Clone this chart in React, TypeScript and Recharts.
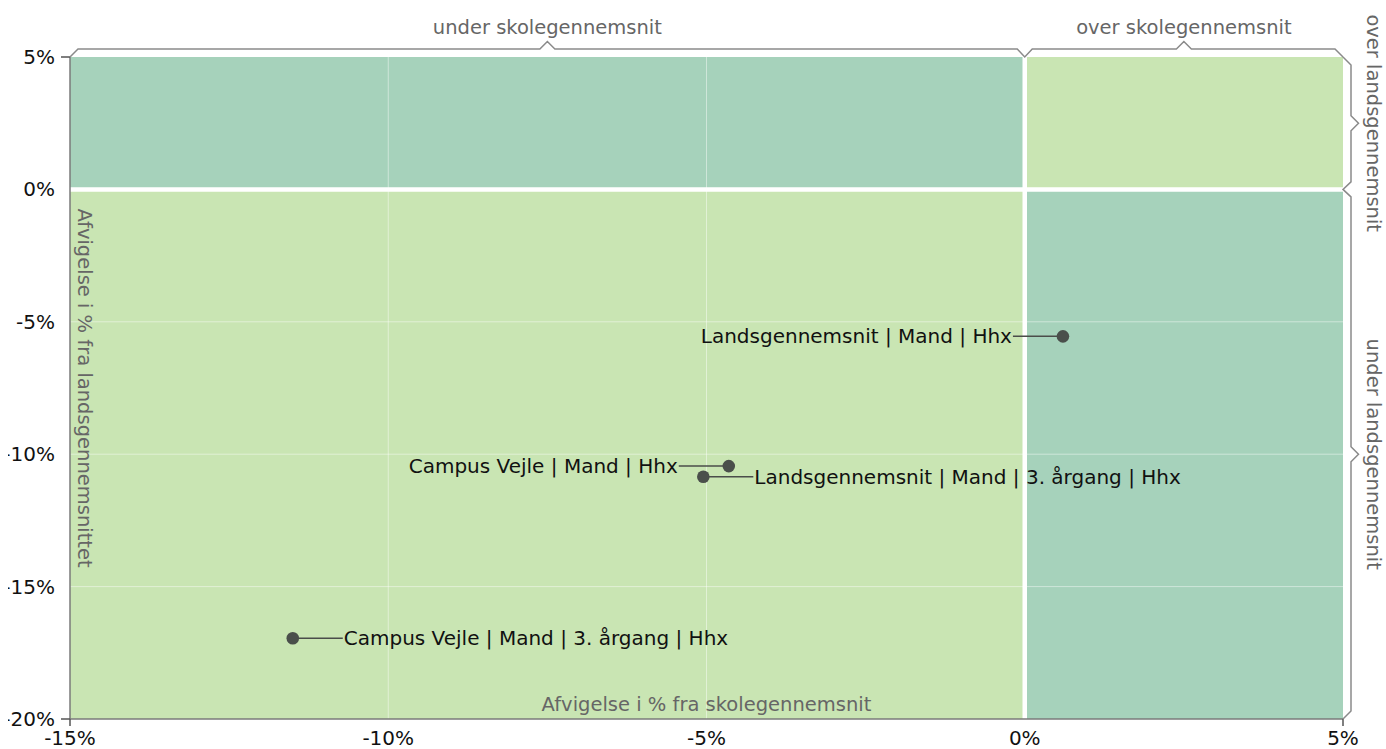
import React from "react";
import {
  ScatterChart,
  Scatter,
  XAxis,
  YAxis,
  ReferenceArea,
  ReferenceLine,
} from "recharts";

const categories = [
  "Landsgennemsnit | Mand | Hhx",
  "Campus Vejle | Mand | Hhx",
  "Landsgennemsnit | Mand | 3. årgang | Hhx",
  "Campus Vejle | Mand | 3. årgang | Hhx",
];
const schoolDeviation = [0.6, -4.65, -5.05, -11.5];
const nationalDeviation = [-5.55, -10.45, -10.85, -16.95];

const xTicks = [-15, -10, -5, 0, 5];
const yTicks = [5, 0, -5, -10, -15, -20];
const xGrid = [-10, -5];
const yGrid = [-5, -10, -15];

const xTitle = "Afvigelse i % fra skolegennemsnit";
const yTitle = "Afvigelse i % fra landsgennemsnittet";
const topBraces = ["under skolegennemsnit", "over skolegennemsnit"];
const sideBraces = ["over landsgennemsnit", "under landsgennemsnit"];

const data = categories.map((name, i) => ({
  name,
  x: schoolDeviation[i],
  y: nationalDeviation[i],
}));

// which side the label sits on
const labelSide: Record<string, "left" | "right"> = {
  [categories[0]]: "left",
  [categories[1]]: "left",
  [categories[2]]: "right",
  [categories[3]]: "right",
};

const W = 1386;
const H = 749;
const PLOT = { left: 70, right: 1343, top: 57, bottom: 719 };
const X_DOM = [-15, 5];
const Y_DOM = [-20, 5];
const DARK = "#a6d2bb";
const LIGHT = "#c9e5b3";
const FONT = "'DejaVu Sans', Verdana, sans-serif";

const px = (v: number) =>
  PLOT.left + ((v - X_DOM[0]) / (X_DOM[1] - X_DOM[0])) * (PLOT.right - PLOT.left);
const py = (v: number) =>
  PLOT.bottom - ((v - Y_DOM[0]) / (Y_DOM[1] - Y_DOM[0])) * (PLOT.bottom - PLOT.top);

const XTick = (props: any) => {
  const { x, y, payload } = props;
  const end = payload.value === X_DOM[0] || payload.value === X_DOM[1];
  return (
    <g>
      {end && <line x1={x} x2={x} y1={y} y2={y + 7} stroke="#555" strokeWidth={1.5} />}
      <text x={x} y={y + 19} textAnchor="middle" dominantBaseline="central" fontSize={20} fill="#111" fontFamily={FONT}>
        {payload.value}%
      </text>
    </g>
  );
};

const YTick = (props: any) => {
  const { x, y, payload } = props;
  const end = payload.value === Y_DOM[0] || payload.value === Y_DOM[1];
  return (
    <g>
      {end && <line x1={x - 9} x2={x} y1={y} y2={y} stroke="#555" strokeWidth={1.5} />}
      <text x={x - 15} y={y} textAnchor="end" dominantBaseline="central" fontSize={20} fill="#111" fontFamily={FONT}>
        {payload.value}%
      </text>
    </g>
  );
};

const PointShape = (props: any) => {
  const { cx, cy, payload } = props;
  const dir = labelSide[payload.name] === "left" ? -1 : 1;
  return (
    <g>
      <line x1={cx} x2={cx + dir * 50} y1={cy} y2={cy} stroke="#4a4d4a" strokeWidth={1.5} />
      <circle cx={cx} cy={cy} r={6.3} fill="#4a4f4b" />
      <text
        x={cx + dir * 51}
        y={cy}
        textAnchor={dir < 0 ? "end" : "start"}
        dominantBaseline="central"
        fontSize={20}
        fill="#111"
        fontFamily={FONT}
      >
        {payload.name}
      </text>
    </g>
  );
};

function Overlay() {
  const by = PLOT.top - 8;
  const bx = PLOT.right + 8;
  const x0 = px(0);
  const y0 = py(0);
  const midL = (PLOT.left + x0) / 2;
  const midR = (x0 + PLOT.right) / 2;
  const midT = (PLOT.top + y0) / 2;
  const midB = (y0 + PLOT.bottom) / 2;
  const n = 7.5;
  const top = [
    `M ${PLOT.left} ${PLOT.top}`,
    `L ${PLOT.left + 8} ${by}`,
    `L ${midL - n} ${by} L ${midL} ${by - n} L ${midL + n} ${by}`,
    `L ${x0 - n} ${by} L ${x0} ${by + 8} L ${x0 + n} ${by}`,
    `L ${midR - n} ${by} L ${midR} ${by - n} L ${midR + n} ${by}`,
    `L ${PLOT.right - 8} ${by} L ${PLOT.right} ${PLOT.top}`,
  ].join(" ");
  const side = [
    `M ${PLOT.right} ${PLOT.top}`,
    `L ${bx} ${PLOT.top + 8}`,
    `L ${bx} ${midT - n} L ${bx + n} ${midT} L ${bx} ${midT + n}`,
    `L ${bx} ${y0 - n} L ${bx - 8} ${y0} L ${bx} ${y0 + n}`,
    `L ${bx} ${midB - n} L ${bx + n} ${midB} L ${bx} ${midB + n}`,
    `L ${bx} ${PLOT.bottom - 8} L ${PLOT.right} ${PLOT.bottom}`,
  ].join(" ");
  const grey = "#666";
  return (
    <svg width={W} height={H} style={{ position: "absolute", left: 0, top: 0, pointerEvents: "none" }}>
      <path d={top} fill="none" stroke="#8a8a8a" strokeWidth={1.5} />
      <path d={side} fill="none" stroke="#8a8a8a" strokeWidth={1.5} />
      <g fontFamily={FONT} fontSize={19.5} fill={grey}>
        <text x={midL} y={27} textAnchor="middle" dominantBaseline="central">{topBraces[0]}</text>
        <text x={midR} y={27} textAnchor="middle" dominantBaseline="central">{topBraces[1]}</text>
        <text x={1373} y={midT} textAnchor="middle" dominantBaseline="central" transform={`rotate(90 1373 ${midT})`}>
          {sideBraces[0]}
        </text>
        <text x={1373} y={midB} textAnchor="middle" dominantBaseline="central" transform={`rotate(90 1373 ${midB})`}>
          {sideBraces[1]}
        </text>
        <text x={(PLOT.left + PLOT.right) / 2} y={704} textAnchor="middle" dominantBaseline="central">{xTitle}</text>
        <text
          x={84}
          y={(PLOT.top + PLOT.bottom) / 2}
          textAnchor="middle"
          dominantBaseline="central"
          transform={`rotate(90 84 ${(PLOT.top + PLOT.bottom) / 2})`}
        >
          {yTitle}
        </text>
      </g>
    </svg>
  );
}

export default function App() {
  return (
    <div style={{ position: "absolute", left: 8, top: 0, width: W - 8, height: H, overflow: "hidden", background: "#fff" }}>
      <div style={{ position: "relative", left: -8, width: W, height: H }}>
        <ScatterChart
          width={W}
          height={H}
          margin={{ top: PLOT.top, right: W - PLOT.right, bottom: 0, left: PLOT.left - 60 }}
        >
          <XAxis
            type="number"
            dataKey="x"
            domain={X_DOM}
            ticks={xTicks}
            interval={0}
            height={H - PLOT.bottom}
            tickSize={0}
            tickMargin={0}
            tickLine={false}
            axisLine={{ stroke: "#7a7a7a", strokeWidth: 1.5 }}
            tick={<XTick />}
          />
          <YAxis
            type="number"
            dataKey="y"
            domain={Y_DOM}
            ticks={yTicks}
            interval={0}
            width={60}
            tickSize={0}
            tickMargin={0}
            tickLine={false}
            axisLine={{ stroke: "#7a7a7a", strokeWidth: 1.5 }}
            tick={<YTick />}
          />
          <ReferenceArea x1={-15} x2={0} y1={0} y2={5} fill={DARK} fillOpacity={1} stroke="none" />
          <ReferenceArea x1={0} x2={5} y1={0} y2={5} fill={LIGHT} fillOpacity={1} stroke="none" />
          <ReferenceArea x1={-15} x2={0} y1={-20} y2={0} fill={LIGHT} fillOpacity={1} stroke="none" />
          <ReferenceArea x1={0} x2={5} y1={-20} y2={0} fill={DARK} fillOpacity={1} stroke="none" />
          {xGrid.map((v) => (
            <ReferenceLine key={`gx${v}`} x={v} stroke="#ffffff" strokeOpacity={0.45} strokeWidth={1} />
          ))}
          {yGrid.map((v) => (
            <ReferenceLine key={`gy${v}`} y={v} stroke="#ffffff" strokeOpacity={0.45} strokeWidth={1} />
          ))}
          <ReferenceLine x={0} stroke="#ffffff" strokeWidth={4.5} />
          <ReferenceLine y={0} stroke="#ffffff" strokeWidth={4.5} />
          <Scatter data={data} shape={<PointShape />} isAnimationActive={false} />
        </ScatterChart>
        <Overlay />
      </div>
    </div>
  );
}
